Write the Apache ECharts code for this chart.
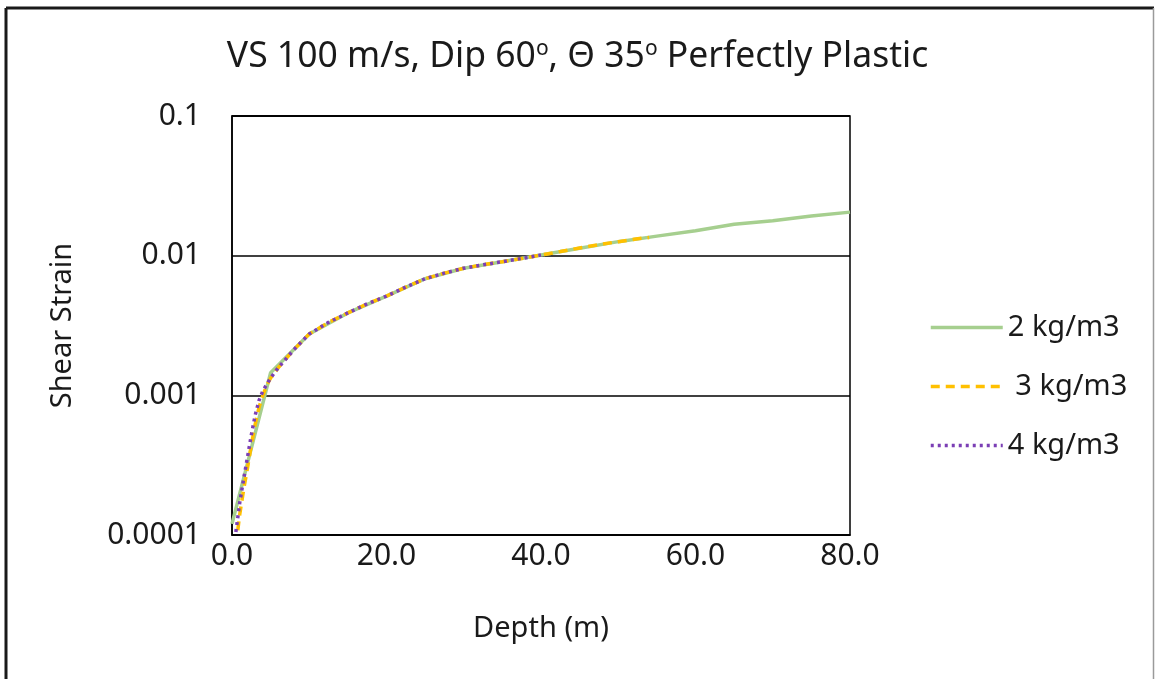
<!DOCTYPE html>
<html>
<head>
<meta charset="utf-8">
<script src="https://cdn.jsdelivr.net/npm/echarts@6/dist/echarts.min.js"></script>
<style>
  html, body { margin: 0; padding: 0; background: #fff; }
  #chart { width: 1155px; height: 679px; }
</style>
</head>
<body>
<div id="chart"></div>
<script>
// Depth (m) / shear strain pairs for each density
const depth2 = [0, 5, 10, 15, 20, 25, 30, 35, 40, 45, 50, 55, 60, 65, 70, 75, 80];
const strain2 = [0.00012, 0.00145, 0.00275, 0.00389, 0.00513, 0.00684, 0.00813, 0.00906, 0.0101, 0.0113, 0.0126, 0.0138, 0.0151, 0.0168, 0.0178, 0.0192, 0.0205];

const depth3 = [0.75, 1, 1.5, 2, 2.5, 3, 3.5, 4, 4.5, 5, 6, 8, 10, 12.5, 15, 17.5, 20, 22.5, 25, 27.5, 30, 32.5, 35, 37.5, 40, 42.5, 45, 47.5, 50, 52.5, 54];
const strain3 = [0.000108, 0.00014, 0.00021, 0.0003, 0.00044, 0.00062, 0.00082, 0.001, 0.00118, 0.00133, 0.00158, 0.00212, 0.00275, 0.00333, 0.00389, 0.00452, 0.00513, 0.00596, 0.00684, 0.0075, 0.00813, 0.0086, 0.00906, 0.00955, 0.0101, 0.0107, 0.01135, 0.012, 0.0126, 0.0132, 0.0135];

const depth4 = [0.5, 1, 1.5, 2, 2.5, 3, 3.5, 4, 5, 6, 8, 10, 12.5, 15, 17.5, 20, 22.5, 25, 27.5, 30, 32.5, 35, 37.5, 40];
const strain4 = [0.000105, 0.00017, 0.00025, 0.00036, 0.00052, 0.00072, 0.00092, 0.00108, 0.00133, 0.00158, 0.00212, 0.00275, 0.00333, 0.00389, 0.00452, 0.00513, 0.00596, 0.00684, 0.0075, 0.00813, 0.0086, 0.00906, 0.00955, 0.0101];

const seriesNames = ['2 kg/m3', ' 3 kg/m3', '4 kg/m3'];
const xTickLabels = ['0.0', '20.0', '40.0', '60.0', '80.0'];
const yTickLabels = ['0.0001', '0.001', '0.01', '0.1'];

const FONT = 'Noto Sans';
const INK = '#1a1a1a';
const pair = (xs, ys) => xs.map((x, i) => [x, ys[i]]);

const chart = echarts.init(document.getElementById('chart'), null, { renderer: 'canvas' });

chart.setOption({
  backgroundColor: '#fff',
  animation: false,
  textStyle: { fontFamily: FONT },
  title: {
    text: 'VS 100 m/s, Dip 60{sup|o}, Θ 35{sup|o} Perfectly Plastic',
    left: 'center',
    top: 34,
    textStyle: {
      fontFamily: FONT, fontSize: 35.5, fontWeight: 'normal', color: INK,
      rich: { sup: { fontFamily: FONT, fontSize: 21, color: INK, padding: [0, 0, 15, 0] } }
    }
  },
  grid: {
    left: 232, right: 305, top: 116, bottom: 144,
    show: true, borderColor: '#000', borderWidth: 1.5, backgroundColor: 'transparent'
  },
  legend: {
    orient: 'vertical',
    left: 924, top: 308,
    itemWidth: 72, itemHeight: 14, itemGap: 30,
    itemStyle: { opacity: 0 },
    lineStyle: { width: 3.5 },
    textStyle: { fontFamily: FONT, fontSize: 29, color: INK },
    data: seriesNames
  },
  xAxis: {
    type: 'value', min: 0, max: 80, interval: 20,
    name: 'Depth (m)', nameLocation: 'middle', nameGap: 79,
    nameTextStyle: { fontFamily: FONT, fontSize: 29, color: INK },
    axisLine: { lineStyle: { color: '#000', width: 1.5 } },
    axisTick: { show: false },
    splitLine: { show: false },
    axisLabel: {
      fontFamily: FONT, fontSize: 30, color: INK, margin: 6,
      formatter: v => xTickLabels[Math.round(v / 20)]
    }
  },
  yAxis: {
    type: 'log', logBase: 10, min: 0.0001, max: 0.1,
    name: 'Shear Strain', nameLocation: 'middle', nameGap: 155,
    nameTextStyle: { fontFamily: FONT, fontSize: 29, color: INK },
    axisLine: { show: true, lineStyle: { color: '#000', width: 1.5 } },
    axisTick: { show: false },
    splitLine: { show: true, lineStyle: { color: '#000', width: 1.5 } },
    axisLabel: {
      fontFamily: FONT, fontSize: 30, color: INK, margin: 31,
      formatter: v => yTickLabels[Math.round(Math.log10(v)) + 4]
    }
  },
  series: [
    {
      name: seriesNames[0], type: 'line', symbol: 'none', z: 2,
      data: pair(depth2, strain2),
      lineStyle: { color: '#A6CF8F', width: 3.5, type: 'solid' },
      itemStyle: { color: '#A6CF8F' }
    },
    {
      name: seriesNames[1], type: 'line', symbol: 'none', z: 3,
      data: pair(depth3, strain3),
      lineStyle: { color: '#FFC000', width: 3.5, type: [9, 6] },
      itemStyle: { color: '#FFC000' }
    },
    {
      name: seriesNames[2], type: 'line', symbol: 'none', z: 4,
      data: pair(depth4, strain4),
      lineStyle: { color: '#7B3FB5', width: 3.5, type: [3, 4] },
      itemStyle: { color: '#7B3FB5' }
    }
  ],
  graphic: [
    { type: 'line', shape: { x1: 6, y1: 8, x2: 1154, y2: 8 }, style: { stroke: INK, lineWidth: 3 }, silent: true },
    { type: 'line', shape: { x1: 6, y1: 8, x2: 6, y2: 679 }, style: { stroke: INK, lineWidth: 3 }, silent: true },
    { type: 'line', shape: { x1: 1153.5, y1: 8, x2: 1153.5, y2: 679 }, style: { stroke: '#9a9a9a', lineWidth: 1.5 }, silent: true }
  ]
});
</script>
</body>
</html>
